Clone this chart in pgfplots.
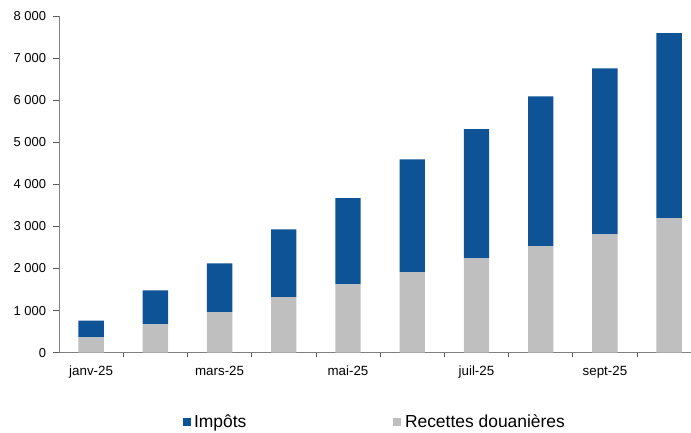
\documentclass[border=0pt]{standalone}
\usepackage{fontspec}
\setmainfont{Liberation Sans}
\usepackage{pgfplots}
\pgfplotsset{compat=1.18}
\definecolor{imp}{RGB}{14,83,149}
\definecolor{rec}{RGB}{191,191,191}
\definecolor{axisgray}{RGB}{128,128,128}
\begin{document}
\begin{tikzpicture}
\path[use as bounding box] (-59bp,-80.3bp) rectangle (632bp,352.7bp);
\begin{axis}[
  scale only axis, width=632bp, height=336.7bp,
  at={(0,0)}, anchor=south west,
  ybar stacked, bar width=25.4bp,
  xmin=-0.5, xmax=9.34, ymin=0, ymax=8000,
  axis x line=bottom, axis y line=left,
  axis line style={-, draw=axisgray, line width=1bp},
  tick align=outside,
  major tick length=5.5bp,
  minor tick length=4.7bp,
  tick style={draw=axisgray!70!black, line width=0.8bp},
  ytick={0,1000,...,8000},
  xtick={0,...,9},
  xticklabels={janv-25,,mars-25,,mai-25,,juil-25,,sept-25,},
  major x tick style={draw=none},
  minor xtick={0.5,1.5,...,8.5},
  yticklabel style={font=\fontsize{13}{15}\selectfont, xshift=-4bp},
  xticklabel style={font=\fontsize{13.4}{15}\selectfont, yshift=-4bp},
  /pgf/number format/.cd, assume math mode=true, 1000 sep={\ },
  /pgfplots/.cd,
  legend style={at={(0.1951,-0.2058)}, anchor=west, draw=none, fill=none,
    legend columns=2, inner sep=0pt,
    font=\fontsize{17.5}{20}\selectfont,
    /tikz/every even column/.append style={column sep=145bp}},
  clip=false,
]
\addplot[fill=rec, draw=none, forget plot] coordinates {
(0,366) (1,675) (2,967) (3,1323) (4,1625) (5,1917) (6,2243) (7,2535) (8,2813) (9,3193)};
\addplot[fill=imp, draw=none, forget plot] coordinates {
(0,394) (1,807) (2,1157) (3,1609) (4,2050) (5,2678) (6,3072) (7,3556) (8,3944) (9,4403)};
\addlegendimage{legend image code/.code={\fill[imp, draw=none] (0bp,-4bp) rectangle (8bp,4bp); \path[draw=none, fill=none] (0bp,0bp) rectangle (9.6bp,0.1bp);}}
\addlegendentry{Impôts}
\addlegendimage{legend image code/.code={\fill[rec, draw=none] (0bp,-4bp) rectangle (8bp,4bp); \path[draw=none, fill=none] (0bp,0bp) rectangle (9.6bp,0.1bp);}}
\addlegendentry{Recettes douanières}
\end{axis}
\end{tikzpicture}
\end{document}
